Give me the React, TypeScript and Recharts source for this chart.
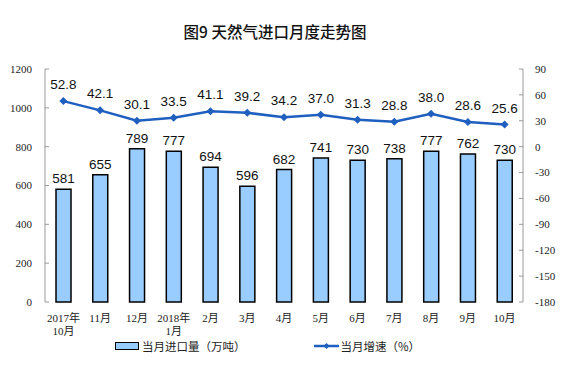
import React from 'react';
import {
  ComposedChart,
  Bar,
  Line,
  XAxis,
  YAxis,
  LabelList,
} from 'recharts';

const months = [
  '2017年\n10月', '11月', '12月', '2018年\n1月', '2月', '3月', '4月',
  '5月', '6月', '7月', '8月', '9月', '10月',
];
const importVolume = [581, 655, 789, 777, 694, 596, 682, 741, 730, 738, 777, 762, 730];
const growthRate = [52.8, 42.1, 30.1, 33.5, 41.1, 39.2, 34.2, 37.0, 31.3, 28.8, 38.0, 28.6, 25.6];
const leftTicks = [0, 200, 400, 600, 800, 1000, 1200];
const rightTicks = [90, 60, 30, 0, -30, -60, -90, -120, -150, -180];
const edgeTicks = months.map((_, i) => i).concat([months.length]);

const data = months.map((m, i) => ({
  month: m,
  volume: importVolume[i],
  rate: growthRate[i],
}));

const LINE = '#1f5fbf';
const serif = '"Liberation Serif", "Noto Sans CJK SC", serif';
const sans = '"Liberation Sans", Arial, sans-serif';

function MonthTick(props: any) {
  const { x, y, payload } = props;
  const lines = String(payload.value).split('\n');
  return (
    <text x={x} y={y} textAnchor="middle" fontSize={11} fontFamily={serif} fill="#222">
      {lines.map((l, i) => (
        <tspan key={i} x={x} dy={i === 0 ? 12 : 13}>
          {l}
        </tspan>
      ))}
    </text>
  );
}

function Diamond(props: any) {
  const { cx, cy, index } = props;
  if (cx == null || cy == null) return null;
  const s = 4;
  return (
    <polygon
      key={index}
      points={`${cx},${cy - s} ${cx + s},${cy} ${cx},${cy + s} ${cx - s},${cy}`}
      fill={LINE}
    />
  );
}

function LegendBox() {
  return (
    <div
      style={{
        display: 'flex',
        fontFamily: '"Noto Sans CJK SC", sans-serif',
        fontSize: 11.5,
        color: '#222',
        position: 'absolute',
        left: 115,
        top: 338,
      }}
    >
      <div style={{ display: 'flex', alignItems: 'center' }}>
        <span
          style={{
            display: 'inline-block',
            width: 22,
            height: 6,
            background: '#99ccff',
            border: '1.5px solid #000',
            marginRight: 3,
          }}
        />
        当月进口量（万吨）
      </div>
      <div style={{ display: 'flex', alignItems: 'center', marginLeft: 68 }}>
        <svg width={25} height={10} style={{ marginRight: 2 }}>
          <line x1={0} y1={5} x2={25} y2={5} stroke={LINE} strokeWidth={2.5} />
          <polygon points="12.5,2 15.5,5 12.5,8 9.5,5" fill={LINE} />
        </svg>
        当月增速（%）
      </div>
    </div>
  );
}

export default function App() {
  return (
    <div style={{ position: 'absolute', left: 0, top: 0, width: 572, height: 371, background: '#fff' }}>
      <div
        style={{
          position: 'absolute',
          left: 0,
          width: 550,
          top: 20,
          textAlign: 'center',
          fontFamily: '"Noto Sans CJK SC", sans-serif',
          fontWeight: 500,
          fontSize: 15.5,
          color: '#111',
        }}
      >
        图9 天然气进口月度走势图
      </div>
      <ComposedChart
        width={572}
        height={371}
        data={data}
        margin={{ top: 69, right: 0, bottom: 0, left: 0 }}
      >
        <XAxis
          xAxisId="edges"
          type="number"
          domain={[0, months.length]}
          ticks={edgeTicks}
          tick={false}
          tickSize={5}
          height={0}
          axisLine={{ stroke: '#999' }}
          tickLine={{ stroke: '#999' }}
        />
        <XAxis
          dataKey="month"
          interval={0}
          height={69}
          axisLine={false}
          tickLine={false}
          tick={<MonthTick />}
        />
        <YAxis
          yAxisId="left"
          width={45}
          domain={[0, 1200]}
          ticks={leftTicks}
          interval={0}
          tickSize={-4}
          tickMargin={17}
          axisLine={{ stroke: '#999' }}
          tickLine={{ stroke: '#999' }}
          tick={{ fontSize: 11, fontFamily: serif, fill: '#222' }}
        />
        <YAxis
          yAxisId="right"
          orientation="right"
          width={49}
          domain={[-180, 90]}
          ticks={rightTicks}
          interval={0}
          tickSize={-4}
          tickMargin={16}
          axisLine={{ stroke: '#999' }}
          tickLine={{ stroke: '#999' }}
          tick={{ fontSize: 11, fontFamily: serif, fill: '#222', textAnchor: 'start' }}
        />
        <Bar
          yAxisId="left"
          dataKey="volume"
          barSize={15}
          fill="#99ccff"
          stroke="#000"
          strokeWidth={1.5}
          isAnimationActive={false}
        >
          <LabelList
            dataKey="volume"
            position="top"
            offset={6}
            style={{ fontSize: 13.5, fontFamily: sans, fill: '#111' }}
          />
        </Bar>
        <Line
          yAxisId="right"
          dataKey="rate"
          stroke={LINE}
          strokeWidth={2.5}
          dot={<Diamond />}
          activeDot={false}
          isAnimationActive={false}
        >
          <LabelList
            dataKey="rate"
            position="top"
            offset={12}
            formatter={(v: any) => Number(v).toFixed(1)}
            style={{ fontSize: 13.5, fontFamily: sans, fill: '#111' }}
          />
        </Line>
      </ComposedChart>
      <LegendBox />
    </div>
  );
}
